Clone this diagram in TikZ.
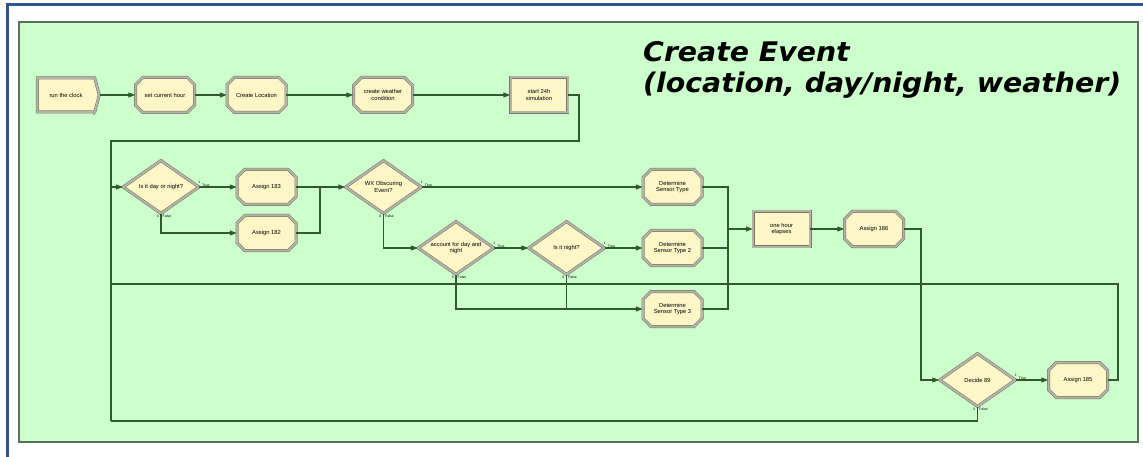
\documentclass[tikz,border=0pt]{standalone}
\usepackage{fontspec}
\newfontfamily\boxfont{Liberation Sans}
\newfontfamily\titlefont{DejaVu Sans}[FakeStretch=1.05]
\usetikzlibrary{arrows.meta, shapes.geometric, shapes.misc, shapes.symbols}

\definecolor{sfondoverde}{HTML}{CCFFCC}
\definecolor{bordopannello}{HTML}{5E6E5E}
\definecolor{giallomodulo}{HTML}{FDF6C6}
\definecolor{grigiobordo}{HTML}{B4B4A4}
\definecolor{grigioscuro}{HTML}{76766A}
\definecolor{verdelinea}{HTML}{2E5A2E}
\definecolor{blucornice}{HTML}{2F5597}

\tikzset{
  modulo/.style={draw=grigioscuro, double=grigiobordo, double distance=2pt, line width=0.5pt,
    fill=giallomodulo, font=\boxfont\fontsize{5.8}{6.8}\selectfont, align=center, inner sep=1pt},
  assegna/.style={modulo, chamfered rectangle, chamfered rectangle xsep=4pt,
    chamfered rectangle ysep=4pt, minimum width=59pt, minimum height=35pt},
  processo/.style={modulo, rectangle, minimum width=57pt, minimum height=35pt},
  crea/.style={modulo, signal, signal to=east, signal pointer angle=150,
    minimum width=62pt, minimum height=34pt},
  decidi/.style={modulo, diamond, aspect=1.45, inner sep=0pt, minimum width=76pt, minimum height=53pt},
  linea/.style={draw=verdelinea, line width=1.2pt},
  freccia/.style={linea, -{Triangle[length=7pt,width=5pt]}},
  piccolo/.style={font=\boxfont\fontsize{3.5}{4}\selectfont, inner sep=0pt}
}

\begin{document}
\begin{tikzpicture}[x=1pt, y=-1pt]

        % ==========================================
        % CORNICE E PANNELLO
        % ==========================================
        \useasboundingbox (0,0) rectangle (1143,457);
        \fill[white] (0,0) rectangle (1143,457);

        % Cornice blu (solo lati sinistro e superiore visibili)
        \draw[blucornice, line width=3pt] (7,457) -- (7,5) -- (1143,5);

        % Pannello verde
        \draw[fill=sfondoverde, draw=bordopannello, line width=1.2pt] (19,22) rectangle (1138,442);

        % Titolo
        \node[font=\titlefont\bfseries\itshape\fontsize{27}{31}\selectfont, anchor=base west, inner sep=0pt]
            (titolo1) at (643,62) {Create Event};
        \node[font=\titlefont\bfseries\itshape\fontsize{27}{31}\selectfont, anchor=base west, inner sep=0pt]
            (titolo2) at (643,93) {(location, day/night, weather)};


        % ==========================================
        % PRIMA RIGA
        % ==========================================
        \node[crea] (clock) at (66,95) {run the clock};
        \node[assegna] (hour) at (165,95) {set current hour};
        \node[assegna] (loc) at (256.5,95) {Create Location};
        \node[assegna] (weather) at (383,95) {create weather\\condition};
        \node[processo] (start24) at (539,95) {start 24h\\simulation};
        \node[piccolo, anchor=north west] (clock-uno) at ([xshift=-2pt,yshift=-1pt]clock.south east) {1};

        \draw[freccia] (clock.east) -- (hour.west);
        \draw[freccia] (hour.east) -- (loc.west);
        \draw[freccia] (loc.east) -- (weather.west);
        \draw[freccia] (weather.east) -- (start24.west);

        % Ritorno verso la seconda riga
        \coordinate (loopR) at (579,141);
        \coordinate (loopL) at (111,141);
        \coordinate (loopB) at (111,421);
        \draw[linea] (start24.east) -| (loopR) -- (loopL) -- (loopB);


        % ==========================================
        % SECONDA PARTE: DECISIONI
        % ==========================================
        \node[decidi] (daynight) at (161,187) {Is it day or night?};
        \node[assegna] (a183) at (266.5,187) {Assign 183};
        \node[assegna] (a182) at (266.5,233) {Assign 182};
        \node[decidi] (wx) at (383.5,187) {WX Obscuring\\Event?};
        \node[decidi] (acct) at (456,248) {account for day and\\night};
        \node[decidi] (night) at (566.5,248) {Is it night?};
        \node[assegna] (dst1) at (672.5,187) {Determine\\Sensor Type};
        \node[assegna] (dst2) at (672.5,248) {Determine\\Sensor Type 2};
        \node[assegna] (dst3) at (672.5,309) {Determine\\Sensor Type 3};
        \node[processo] (onehour) at (781.5,229) {one hour\\elapses};
        \node[assegna] (a186) at (874,229) {Assign 186};
        \node[decidi] (d89) at (977.5,380) {Decide 89};
        \node[assegna] (a185) at (1078,380) {Assign 185};

        % Etichette True / False dei moduli Decide
        \foreach \d in {daynight, wx, acct, night, d89} {
            \node[piccolo, anchor=south] (\d-uno) at ([xshift=0pt,yshift=3pt]\d.east) {1};
            \node[piccolo, anchor=south west] (\d-vero) at ([xshift=3pt,yshift=0.5pt]\d.east) {True};
            \node[piccolo, anchor=north east] (\d-zero) at ([xshift=-2pt,yshift=-1pt]\d.south) {0};
            \node[piccolo, anchor=north west] (\d-falso) at ([xshift=1.5pt,yshift=-1pt]\d.south) {False};
        }

        % Collegamenti
        \draw[freccia] (loopL |- daynight.west) -- (daynight.west);
        \draw[freccia] (daynight.east) -- (a183.west);
        \draw[freccia] (daynight.south) |- (a182.west);

        \coordinate (join1) at (320,187);
        \draw[linea] (a183.east) -- (join1);
        \draw[linea] (a182.east) -| (join1);
        \draw[freccia] (join1) -- (wx.west);

        \draw[freccia] (wx.east) -- (dst1.west);
        \draw[freccia] (wx.south) |- (acct.west);
        \draw[freccia] (acct.east) -- (night.west);
        \draw[freccia] (night.east) -- (dst2.west);
        \draw[freccia] (acct.south) |- (dst3.west);
        \draw[linea] (night.south) -- (night.south |- dst3.west);

        \coordinate (merge) at (728,229);
        \draw[linea] (dst1.east) -| (merge);
        \draw[linea] (dst3.east) -| (merge);
        \draw[linea] (dst2.east) -- (merge |- dst2.east);
        \draw[freccia] (merge) -- (onehour.west);
        \draw[freccia] (onehour.east) -- (a186.west);

        \coordinate (drop) at (921,380);
        \draw[freccia] (a186.east) -| (drop) -- (d89.west);
        \draw[freccia] (d89.east) -- (a185.west);

        % Ritorni verso la linea di sinistra
        \coordinate (backR) at (1118,284);
        \draw[linea] (a185.east) -| (backR) -- (loopL |- backR);
        \draw[linea] (d89.south) |- (loopB);

\end{tikzpicture}
\end{document}
